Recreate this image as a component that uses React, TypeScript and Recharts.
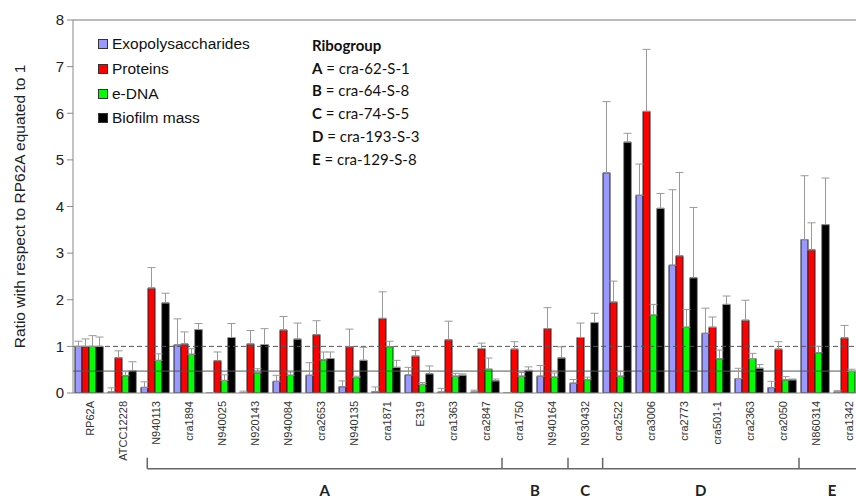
import { Bar, BarChart, ErrorBar, Legend, ReferenceLine, XAxis, YAxis } from "recharts";

const cepas = [
  "RP62A", "ATCC12228", "N940113", "cra1894", "N940025", "N920143", "N940084", "cra2653",
  "N940135", "cra1871", "E319", "cra1363", "cra2847", "cra1750", "N940164", "N930432",
  "cra2522", "cra3006", "cra2773", "cra501-1", "cra2363", "cra2050", "N860314", "cra1342",
];
const eps = [1.0, 0.02, 0.12, 1.03, 0.01, 0.01, 0.25, 0.38, 0.135, 0.03, 0.385, 0.02, 0.02, 0.01, 0.36, 0.21, 4.72, 4.24, 2.74, 1.28, 0.31, 0.115, 3.29, 0.02];
const epsErr = [0.11, 0.09, 0.12, 0.56, 0, 0.03, 0.13, 0.27, 0.125, 0.1, 0.165, 0.08, 0.04, 0, 0.23, 0.08, 1.53, 0.67, 1.62, 0.54, 0.22, 0.135, 1.37, 0.03];
const prot = [1.0, 0.755, 2.25, 1.05, 0.69, 1.05, 1.35, 1.25, 0.99, 1.6, 0.79, 1.14, 0.955, 0.94, 1.38, 1.19, 1.95, 6.04, 2.94, 1.41, 1.56, 0.94, 3.07, 1.18];
const protErr = [0.16, 0.15, 0.44, 0.26, 0.19, 0.29, 0.29, 0.3, 0.38, 0.57, 0.12, 0.4, 0.115, 0.16, 0.45, 0.31, 0.45, 1.33, 1.79, 0.22, 0.43, 0.16, 0.58, 0.27];
const edna = [1.0, 0.37, 0.7, 0.83, 0.27, 0.43, 0.38, 0.71, 0.33, 0.99, 0.185, 0.36, 0.51, 0.36, 0.34, 0.285, 0.36, 1.67, 1.41, 0.73, 0.74, 0.28, 0.86, 0.46];
const ednaErr = [0.23, 0.09, 0.14, 0.12, 0.12, 0.09, 0.07, 0.17, 0.03, 0.12, 0.04, 0.06, 0.24, 0.08, 0.09, 0.055, 0.1, 0.23, 0.38, 0.19, 0.11, 0.07, 0.14, 0.05];
const biofilme = [1.0, 0.48, 1.93, 1.36, 1.19, 1.04, 1.155, 0.74, 0.7, 0.55, 0.41, 0.38, 0.26, 0.485, 0.75, 1.51, 5.38, 3.96, 2.47, 1.9, 0.53, 0.28, 3.61, 0];
const biofilmeErr = [0.2, 0.19, 0.21, 0.13, 0.3, 0.34, 0.345, 0.14, 0.28, 0.15, 0.17, 0.03, 0.04, 0.075, 0.24, 0.2, 0.19, 0.32, 1.51, 0.18, 0.08, 0.02, 1.0, 0];

// Ribogrupos: limites em unidades de categoria
const grupos = ["A", "B", "C", "D", "E"];
const grupoInicio = [2.25, 13, 15, 16.05, 22];
const grupoFim = [13, 15, 16.05, 22, 24];
const ribotipos = ["cra-62-S-1", "cra-64-S-8", "cra-74-S-5", "cra-193-S-3", "cra-129-S-8"];

const yTicks = [0, 1, 2, 3, 4, 5, 6, 7, 8];
const linhaTracejada = 1;
const linhaContinua = 0.47;

const series = [
  { key: "eps", label: "Exopolysaccharides", cor: "#9999ff" },
  { key: "prot", label: "Proteins", cor: "#ff0000" },
  { key: "edna", label: "e-DNA", cor: "#00ff00" },
  { key: "bio", label: "Biofilm mass", cor: "#000000" },
];

const dados = cepas.map((c, i) => ({
  cepa: c,
  pos: i + 0.5,
  eps: eps[i], epsErr: [0, epsErr[i]],
  prot: prot[i], protErr: [0, protErr[i]],
  edna: edna[i], ednaErr: [0, ednaErr[i]],
  bio: biofilme[i], bioErr: [0, biofilmeErr[i]],
}));

const limites = [...cepas.map((_, i) => i), cepas.length];
const centrosGrupo = grupos.map((_, i) => (grupoInicio[i] + grupoFim[i]) / 2);

const ARIAL = "'Liberation Sans', Arial, sans-serif";
const CALIBRI = "Lato, 'Open Sans', sans-serif";
const COLCHETE_Y = -1.626; // linha do colchete (abaixo do eixo, em unidades de Y)
const COLCHETE_TOPO = -1.39;

function RotuloCepa(props: any) {
  const { x, y, payload } = props;
  return (
    <text x={x} y={y} transform={`rotate(-90 ${x} ${y})`} textAnchor="end" dominantBaseline="central" fontSize={11} fill="#333" fontFamily={ARIAL}>
      {payload.value}
    </text>
  );
}

function RotuloGrupo(props: any) {
  const { x, y, index } = props;
  return (
    <text x={x} y={y + 31} textAnchor="middle" dominantBaseline="central" fontSize={15} fontWeight="bold" fill="#222" fontFamily={CALIBRI}>
      {grupos[index]}
    </text>
  );
}

function Legenda() {
  return (
    <div style={{ fontFamily: ARIAL, fontSize: 15.5, color: "#111" }}>
      {series.map((s) => (
        <div key={s.key} style={{ display: "flex", alignItems: "center", height: 24.7, whiteSpace: "nowrap" }}>
          <span style={{ display: "inline-block", width: 8, height: 8, background: s.cor, border: "1px solid #333", marginRight: 4 }} />
          {s.label}
        </div>
      ))}
    </div>
  );
}

export default function App() {
  return (
    <div style={{ position: "absolute", left: 0, top: 0, width: 856, height: 500, overflow: "hidden", background: "#fff" }}>
      <BarChart width={880} height={500} data={dados} margin={{ top: 20, right: 15, left: 0, bottom: 0 }} barCategoryGap={2} barGap={0}>
        <YAxis
          domain={[0, 8]}
          ticks={yTicks}
          allowDataOverflow
          width={73}
          tickSize={6}
          tickMargin={3}
          axisLine={{ stroke: "#888" }}
          tickLine={{ stroke: "#888" }}
          tick={{ fontSize: 15, fill: "#222", fontFamily: ARIAL }}
          label={{
            content: (p: any) => {
              const cy = p.viewBox.y + p.viewBox.height / 2;
              return (
                <text x={19} y={cy} transform={`rotate(-90 19 ${cy})`} textAnchor="middle" dominantBaseline="central" fontSize={15.5} fill="#222" fontFamily={ARIAL}>
                  Ratio with respect to RP62A equated to 1
                </text>
              );
            },
          }}
        />
        {/* eixo1: linha do eixo e marcas nos limites entre cepas */}
        <XAxis xAxisId="eixo1" dataKey="pos" type="number" domain={[0, cepas.length]} ticks={limites} interval={0} allowDataOverflow height={6} tickSize={5} tick={false} axisLine={{ stroke: "#888" }} tickLine={{ stroke: "#888" }} />
        {/* eixo2: nomes das cepas */}
        <XAxis xAxisId="eixo2" dataKey="cepa" interval={0} height={60} tickSize={0} tickMargin={2} tickLine={false} axisLine={false} tick={<RotuloCepa />} />
        {/* eixo3: letras dos ribogrupos */}
        <XAxis xAxisId="eixo3" dataKey="pos" type="number" domain={[0, cepas.length]} ticks={centrosGrupo} interval={0} allowDataOverflow height={41} tickSize={0} tickMargin={0} tickLine={false} axisLine={false} tick={<RotuloGrupo />} />

        <ReferenceLine xAxisId="eixo1" y={8} stroke="#bbb" strokeWidth={2} />
        <ReferenceLine xAxisId="eixo1" y={linhaTracejada} stroke="#555" strokeDasharray="5 3" />
        <ReferenceLine xAxisId="eixo1" y={linhaContinua} stroke="#555" />

        {series.map((s) => (
          <Bar key={s.key} xAxisId="eixo2" dataKey={s.key} name={s.label} fill={s.cor} stroke="#222" strokeWidth={1} isAnimationActive={false}>
            <ErrorBar dataKey={`${s.key}Err`} width={4} stroke="#999" strokeWidth={1} direction="y" />
          </Bar>
        ))}

        {/* colchetes dos ribogrupos */}
        <ReferenceLine xAxisId="eixo1" ifOverflow="visible" stroke="#666" strokeWidth={1.5}
          segment={[{ x: grupoInicio[0], y: COLCHETE_Y }, { x: cepas.length, y: COLCHETE_Y }]} />
        {grupoInicio.map((g) => (
          <ReferenceLine key={g} xAxisId="eixo1" ifOverflow="visible" stroke="#666" strokeWidth={1.5}
            segment={[{ x: g, y: COLCHETE_Y }, { x: g, y: COLCHETE_TOPO }]} />
        ))}

        <Legend layout="vertical" align="center" verticalAlign="middle" content={<Legenda />}
          wrapperStyle={{ position: "absolute", left: 98, top: 32, width: 200 }} />
      </BarChart>

      <div style={{ position: "absolute", left: 312, top: 34, fontFamily: CALIBRI, fontSize: 15, color: "#111", lineHeight: "22.7px" }}>
        <div style={{ fontWeight: "bold" }}>Ribogroup</div>
        {grupos.map((g, i) => (
          <div key={g}><b>{g}</b> = {ribotipos[i]}</div>
        ))}
      </div>
    </div>
  );
}
